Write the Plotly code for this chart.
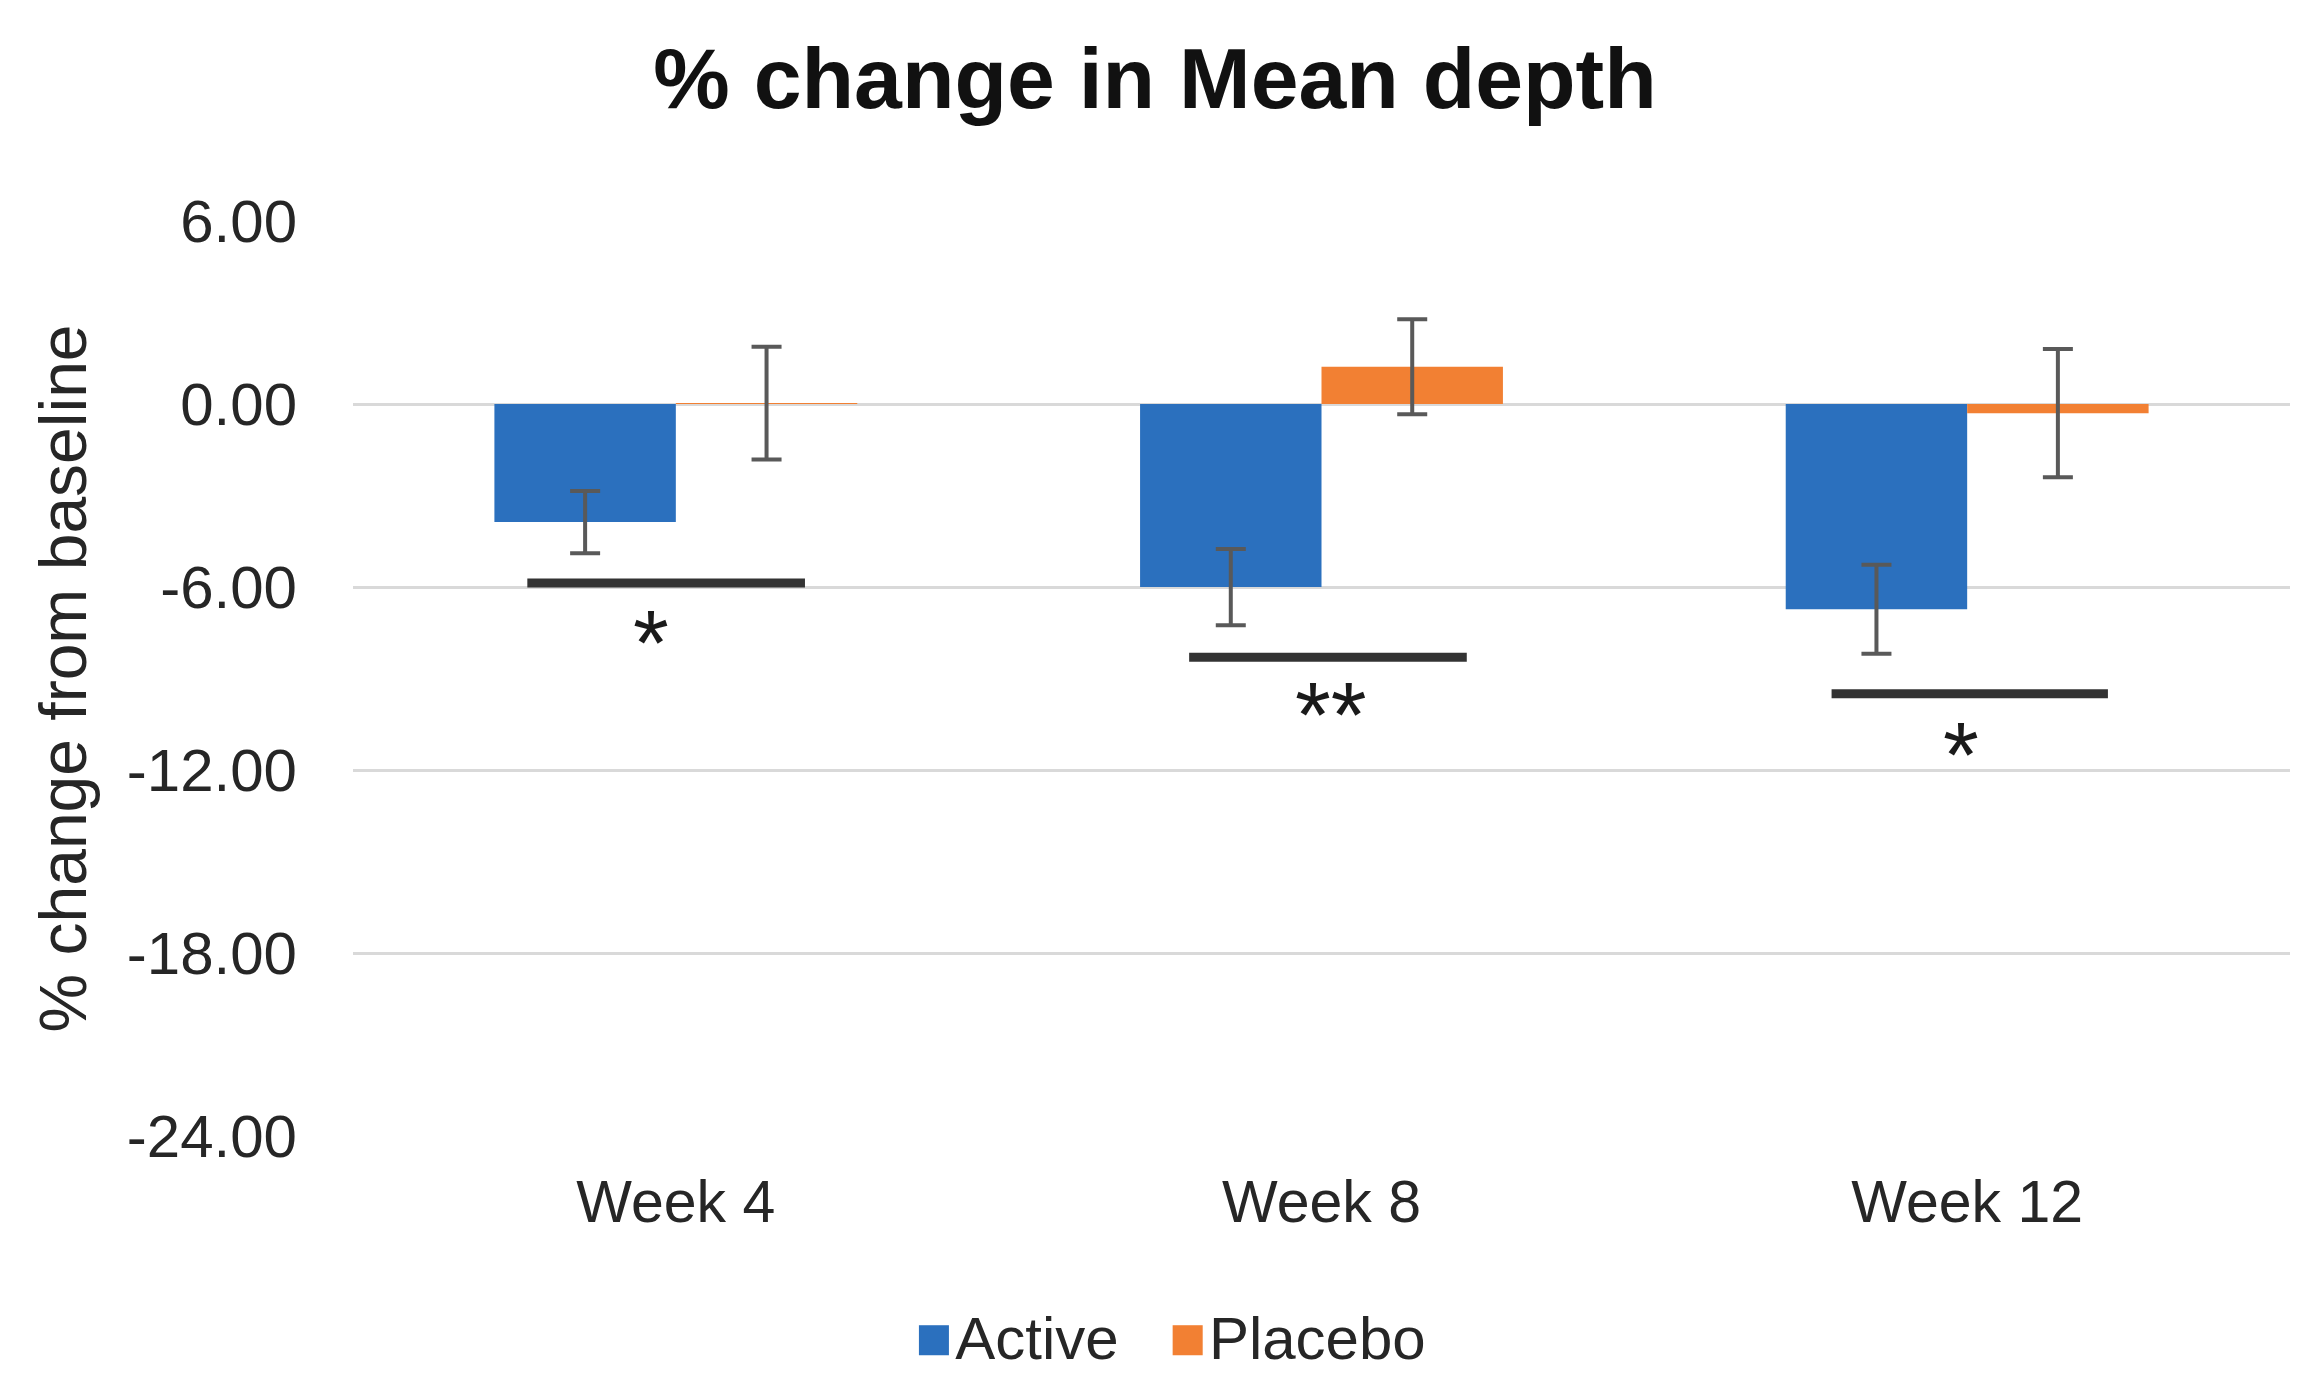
import plotly.graph_objects as go

categories = ["Week 4", "Week 8", "Week 12"]
active_values = [-3.87, -6.0, -6.73]
active_errors = [1.02, 1.25, 1.46]
placebo_values = [0.03, 1.22, -0.3]
placebo_errors = [1.85, 1.56, 2.1]
y_ticks = [6, 0, -6, -12, -18, -24]
y_tick_labels = ["6.00", "0.00", "-6.00", "-12.00", "-18.00", "-24.00"]

# significance brackets
sig_levels = [-5.87, -8.3, -9.5]
sig_x0 = [-0.23, -0.205, -0.21]
sig_x1 = [0.20, 0.225, 0.218]
sig_labels = ["*", "**", "*"]
sig_label_y = [-7.85, -10.2, -11.5]
sig_label_dx = [-0.039, 0.014, -0.01]

series_names = ["Active", "Placebo"]
series_colors = ["#2B70BE", "#F28033"]

FONT = "Liberation Sans, Arial, sans-serif"
TXT = "#262626"

fig = go.Figure()
fig.add_trace(go.Bar(
    name=series_names[0], x=categories, y=active_values,
    marker=dict(color=series_colors[0], line=dict(width=0)),
    error_y=dict(type="data", array=active_errors, visible=True,
                 color="#595959", thickness=4, width=15),
))
fig.add_trace(go.Bar(
    name=series_names[1], x=categories, y=placebo_values,
    marker=dict(color=series_colors[1], line=dict(width=0)),
    error_y=dict(type="data", array=placebo_errors, visible=True,
                 color="#595959", thickness=4, width=15),
))

for i in range(len(categories)):
    fig.add_shape(type="line", xref="x", yref="y",
                  x0=i + sig_x0[i], x1=i + sig_x1[i],
                  y0=sig_levels[i], y1=sig_levels[i],
                  line=dict(color="#333333", width=9))
    fig.add_annotation(x=i + sig_label_dx[i], y=sig_label_y[i], xref="x", yref="y",
                       text=sig_labels[i], showarrow=False,
                       font=dict(family=FONT, size=92, color="#1a1a1a"),
                       yanchor="middle", xanchor="center")

# legend drawn as text with coloured squares
legend_text = "&nbsp;&nbsp;&nbsp;".join(
    f"<span style='color:{c};font-size:62px'>■</span><span style='font-size:10px'> </span>{n}"
    for n, c in zip(series_names, series_colors)
)
fig.add_annotation(xref="paper", yref="paper", x=0.422, y=-0.22,
                   xanchor="center", yanchor="middle", showarrow=False,
                   text=legend_text,
                   font=dict(family=FONT, size=60, color=TXT))

fig.update_layout(
    width=2322, height=1388,
    paper_bgcolor="white", plot_bgcolor="white",
    margin=dict(l=345, r=40, t=213, b=260),
    barmode="group", bargap=0.438, bargroupgap=0,
    title=dict(text="<b>% change in Mean depth</b>", x=0.494, xref="container",
               y=0.95, yref="container", yanchor="middle", xanchor="center",
               font=dict(family=FONT, size=86, color="#111111")),
    showlegend=False,
    font=dict(family=FONT, color=TXT),
)
fig.update_xaxes(
    type="category", showgrid=False, showline=False, zeroline=False,
    tickfont=dict(family=FONT, size=59, color=TXT), ticklabelstandoff=26,
)
fig.update_yaxes(
    range=[-24, 6], tickmode="array", tickvals=y_ticks, ticktext=y_tick_labels,
    showgrid=True, gridcolor="#D9D9D9", gridwidth=2.5,
    zeroline=True, zerolinecolor="#D9D9D9", zerolinewidth=2.5,
    showline=False, tickfont=dict(family=FONT, size=60, color=TXT),
    ticklabelstandoff=55,
    title=dict(text="% change from baseline", standoff=18,
               font=dict(family=FONT, size=66, color=TXT)),
)

fig.write_html("out.html")
